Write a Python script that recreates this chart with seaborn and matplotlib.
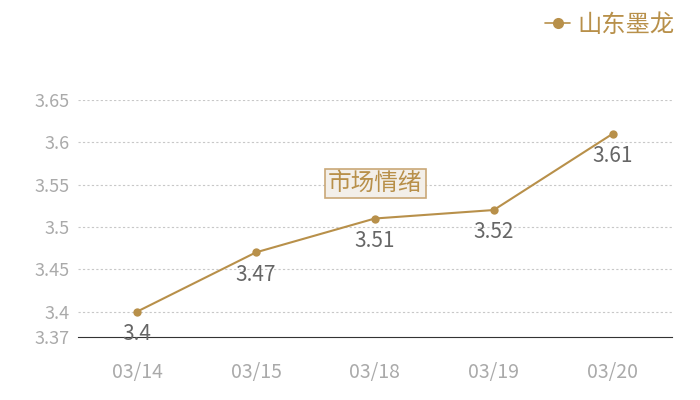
import matplotlib
matplotlib.use("Agg")
import matplotlib.pyplot as plt
import seaborn as sns
import pandas as pd
from matplotlib.lines import Line2D

dates = ["03/14", "03/15", "03/18", "03/19", "03/20"]
values = [3.40, 3.47, 3.51, 3.52, 3.61]
yticks = [3.37, 3.4, 3.45, 3.5, 3.55, 3.6, 3.65]
ytick_labels = ["3.37", "3.4", "3.45", "3.5", "3.55", "3.6", "3.65"]
series_name = "山东墨龙"
center_label = "市场情绪"

sns.set_style("white")
plt.rcParams['font.family'] = ['Noto Sans CJK SC', 'DejaVu Sans']

color = "#b8904a"
df = pd.DataFrame({"date": dates, "value": values})

fig = plt.figure(figsize=(7, 4), dpi=100)
ax = fig.add_axes([0.111, 0.1575, 0.849, 0.5925])
sns.lineplot(data=df, x="date", y="value", ax=ax, color=color, lw=1.5,
             marker="o", markersize=6, markeredgewidth=0, sort=False)

ax.set_xlim(-0.5, len(dates) - 0.5)
ax.set_ylim(3.37, 3.65)
ax.set_yticks(yticks)
ax.set_yticklabels(ytick_labels)
ax.set_xlabel("")
ax.set_ylabel("")
for s in ["top", "right", "left"]:
    ax.spines[s].set_visible(False)
ax.spines["bottom"].set_color("#333333")
ax.spines["bottom"].set_linewidth(0.8)
ax.tick_params(axis="y", length=0, labelcolor="#aaaaaa", labelsize=13, pad=6)
ax.tick_params(axis="x", length=0, labelcolor="#aaaaaa", labelsize=14, pad=18)
for y in yticks[1:]:
    ax.axhline(y, color="#c8c8c8", lw=0.8, ls=(0, (2, 2)), zorder=0)

for i, v in enumerate(values):
    ax.annotate(f"{v:g}", (i, v), xytext=(0, -16), textcoords="offset points",
                ha="center", va="center", fontsize=15, color="#666666")

fig.text(0.536, 0.542, center_label, ha="center", va="center", fontsize=17,
         color=color,
         bbox=dict(boxstyle="square,pad=0.13", fc="#f3efe9", ec="#c9a877", lw=1.2))

handle = Line2D([0], [0], color=color, marker="o", markersize=8, lw=1.2,
                markeredgewidth=0)
fig.legend([handle], [series_name], loc="upper right", bbox_to_anchor=(0.995, 1.025),
           frameon=False, fontsize=17.5, labelcolor=color, handlelength=1.05,
           handletextpad=0.3)

fig.savefig("out.png", dpi=100)
